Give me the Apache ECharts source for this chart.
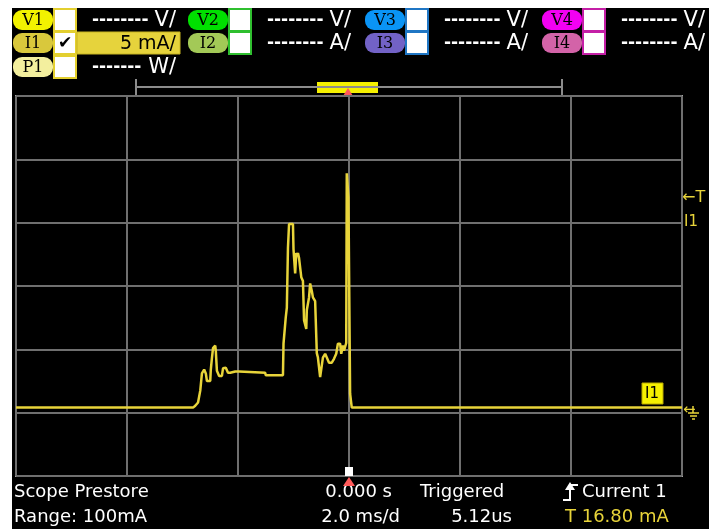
<!DOCTYPE html>
<html>
<head>
<meta charset="utf-8">
<script src="https://cdn.jsdelivr.net/npm/echarts@6/dist/echarts.min.js"></script>
<style>
  html, body { margin: 0; padding: 0; background: #fff; }
  #screen { position: absolute; left: 12px; top: 8px; width: 697px; height: 521px; background: #000; }
  #chart { position: absolute; left: 0; top: 0; width: 715px; height: 529px; }
</style>
</head>
<body>
<div id="screen"></div>
<div id="chart"></div>
<script>
// scope trace, channel I1 (time in ms, current in mA)
const timeMs = [
  -6.0, -5.44, -5.43, -5.41, -2.81, -2.77, -2.72, -2.68, -2.65, -2.61,
  -2.58, -2.56, -2.50, -2.49, -2.47, -2.45, -2.41, -2.40, -2.38, -2.34,
  -2.29, -2.27, -2.22, -2.18, -2.14, -2.05, -1.98, -1.96, -1.51, -1.50,
  -1.19, -1.18, -1.15, -1.14, -1.12, -1.10, -1.08, -1.01, -1.00, -0.99,
  -0.97, -0.95, -0.93, -0.92, -0.90, -0.86, -0.83, -0.81, -0.77, -0.76,
  -0.72, -0.70, -0.67, -0.65, -0.61, -0.58, -0.56, -0.52, -0.49, -0.47,
  -0.43, -0.40, -0.36, -0.31, -0.27, -0.23, -0.20, -0.16, -0.14, -0.11,
  -0.09, -0.05, -0.04, -0.02, -0.01, 0.01, 0.02, 0.04, 0.05, 6.0
];
const currentMa = [
  0.4, 0.4, 0.55, 0.4, 0.4, 0.55, 0.8, 1.74, 3.1, 3.4,
  3.1, 2.5, 2.5, 3.4, 4.3, 5.1, 5.3, 4.9, 3.3, 2.9,
  2.9, 3.5, 3.55, 3.15, 3.15, 3.25, 3.25, 3.15, 3.15, 2.95,
  2.95, 5.45, 5.45, 7.5, 8.3, 13.0, 14.9, 14.9, 12.9, 12.9,
  11.0, 12.6, 12.4, 12.6, 12.2, 10.7, 10.4, 7.3, 6.6, 8.1,
  9.1, 10.2, 9.6, 9.1, 8.8, 4.7, 4.35, 2.8, 2.8, 4.35,
  4.65, 4.35, 3.95, 3.95, 4.25, 4.65, 5.45, 5.45, 4.65, 5.3,
  4.9, 5.5, 18.9, 18.9, 17.0, 17.0, 1.5, 1.35, 0.4, 0.4
];

// 6 div x 2 ms, 6 div x 5 mA
const xMin = -6, xMax = 6, xStep = 2;
const yMin = -5, yMax = 25, yStep = 5;

// header channel labels
const channelRows = [
  [["V1", "#f2f200"], ["I1", "#d9c83c"], ["P1", "#f3ef9e"]],
  [["V2", "#00e000"], ["I2", "#a3c957"]],
  [["V3", "#0a94f5"], ["I3", "#7262c6"]],
  [["V4", "#f200f2"], ["I4", "#d363a8"]]
];
const boxColors = ["#e3cf2f", "#2fbf2f", "#1f76c4", "#c41fa6"];
const unitRows = [["V/", "A/", "W/"], ["V/", "A/"], ["V/", "A/"], ["V/", "A/"]];
const bottomText = {
  mode: "Scope Prestore", range: "Range: 100mA",
  offset: "0.000 s", timebase: "2.0 ms/d",
  state: "Triggered", delay: "5.12us",
  source: "Current 1", level: "T 16.80 mA"
};

const YEL = "#e8d43a";
const FONT = "DejaVu Sans";

function buildHeader() {
  const els = [];
  const groupX = [13, 188, 365, 542];
  const rowY = [20, 43, 67];
  channelRows.forEach((rows, g) => {
    const gx = groupX[g];
    rows.forEach(([lab, col], r) => {
      const cy = rowY[r];
      els.push({ type: "rect", shape: { x: gx, y: cy - 10, width: 40, height: 20, r: 9 }, style: { fill: col } });
      els.push({ type: "text", x: gx + 20, y: cy + 1, style: { text: lab, fill: "#000", font: "16px 'DejaVu Serif'", align: "center", verticalAlign: "middle" } });
      els.push({ type: "rect", shape: { x: gx + 41, y: cy - 11, width: 22, height: 22 }, style: { fill: "#fff", stroke: boxColors[g], lineWidth: 2 } });
      const right = gx + 163;
      if (g === 0 && r === 1) {
        els.push({ type: "rect", shape: { x: gx + 64, y: cy - 11, width: 103, height: 22 }, style: { fill: "#e6d33c", stroke: "#c8b420", lineWidth: 1 } });
        els.push({ type: "text", x: gx + 52, y: cy + 1, style: { text: "✔", fill: "#000", font: "bold 17px " + FONT, align: "center", verticalAlign: "middle" } });
        els.push({ type: "text", x: right, y: cy + 1, style: { text: "5 mA/", fill: "#000", font: "19px " + FONT, align: "right", verticalAlign: "middle" } });
      } else {
        const dashes = r === 2 ? "-------" : "--------";
        els.push({ type: "text", x: gx + 79, y: cy + 1, style: { text: dashes, fill: "#fff", font: "bold 17px " + FONT, align: "left", verticalAlign: "middle" } });
        els.push({ type: "text", x: right, y: cy + 1, style: { text: unitRows[g][r], fill: "#fff", font: "21px " + FONT, align: "right", verticalAlign: "middle" } });
      }
    });
  });
  return els;
}

function buildFrameMarks() {
  const gray = "#8c8c8c";
  return [
    // top bracket / position bar
    { type: "line", shape: { x1: 136, y1: 87, x2: 562, y2: 87 }, style: { stroke: gray, lineWidth: 2 } },
    { type: "line", shape: { x1: 136, y1: 79, x2: 136, y2: 95 }, style: { stroke: gray, lineWidth: 2 } },
    { type: "line", shape: { x1: 562, y1: 79, x2: 562, y2: 95 }, style: { stroke: gray, lineWidth: 2 } },
    { type: "rect", shape: { x: 317, y: 82, width: 61, height: 11 }, style: { fill: "#f5f000" } },
    { type: "line", shape: { x1: 317, y1: 87, x2: 378, y2: 87 }, style: { stroke: gray, lineWidth: 2 } },
    { type: "polygon", shape: { points: [[348, 88], [343, 96], [353, 96]] }, style: { fill: "#ff5a5a" } },
    // trigger point marker at bottom
    { type: "rect", z: 50, shape: { x: 345, y: 467, width: 8, height: 9 }, style: { fill: "#fff" } },
    { type: "polygon", z: 50, shape: { points: [[349, 477], [343, 486], [355, 486]] }, style: { fill: "#ff5a5a" } },
    // right side markers
    { type: "text", x: 682, y: 198, style: { text: "←T", fill: YEL, font: "16px " + FONT, verticalAlign: "middle" } },
    { type: "text", x: 684, y: 222, style: { text: "I1", fill: YEL, font: "15px " + FONT, verticalAlign: "middle" } },
    { type: "text", x: 683, y: 410, style: { text: "←", fill: YEL, font: "15px " + FONT, verticalAlign: "middle" } },
    { type: "line", shape: { x1: 693, y1: 406, x2: 693, y2: 413 }, style: { stroke: YEL, lineWidth: 1.5 } },
    { type: "line", shape: { x1: 688, y1: 413, x2: 699, y2: 413 }, style: { stroke: YEL, lineWidth: 1.5 } },
    { type: "line", shape: { x1: 690, y1: 416, x2: 697, y2: 416 }, style: { stroke: YEL, lineWidth: 1.5 } },
    { type: "line", shape: { x1: 692, y1: 419, x2: 695, y2: 419 }, style: { stroke: YEL, lineWidth: 1.5 } },
    { type: "rect", z: 50, shape: { x: 642, y: 383, width: 21, height: 21 }, style: { fill: "#f5f000", stroke: "#b8a800", lineWidth: 1 } },
    { type: "text", z: 51, x: 652, y: 394, style: { text: "I1", fill: "#000", font: "15px " + FONT, align: "center", verticalAlign: "middle" } }
  ];
}

function buildFooter() {
  const t = (text, x, y, align, fill) => ({
    type: "text", x, y,
    style: { text, fill: fill || "#fff", font: "18px " + FONT, align, verticalAlign: "middle" }
  });
  return [
    t(bottomText.mode, 14, 492, "left"),
    t(bottomText.range, 14, 517, "left"),
    t(bottomText.offset, 392, 492, "right"),
    t(bottomText.timebase, 400, 517, "right"),
    t(bottomText.state, 420, 492, "left"),
    t(bottomText.delay, 512, 517, "right"),
    t(bottomText.source, 582, 492, "left"),
    t(bottomText.level, 565, 517, "left", YEL),
    // rising edge trigger symbol
    { type: "polyline", shape: { points: [[563, 500], [570, 500], [570, 485], [578, 485]] }, style: { stroke: "#fff", lineWidth: 2, fill: null } },
    { type: "polygon", shape: { points: [[570, 482], [565, 490], [575, 490]] }, style: { fill: "#fff" } }
  ];
}

const chart = echarts.init(document.getElementById("chart"));
chart.setOption({
  backgroundColor: "transparent",
  animation: false,
  grid: {
    left: 16, right: 33, top: 96, bottom: 53,
    show: true, borderColor: "#a6a6a6", borderWidth: 2, backgroundColor: "transparent"
  },
  xAxis: {
    type: "value", min: xMin, max: xMax, interval: xStep,
    axisLine: { show: false }, axisTick: { show: false }, axisLabel: { show: false },
    splitLine: { show: true, lineStyle: { color: "#6f6f6f", width: 2 } }
  },
  yAxis: {
    type: "value", min: yMin, max: yMax, interval: yStep,
    axisLine: { show: false }, axisTick: { show: false }, axisLabel: { show: false },
    splitLine: { show: true, lineStyle: { color: "#6f6f6f", width: 2 } }
  },
  graphic: [...buildHeader(), ...buildFrameMarks(), ...buildFooter()],
  series: [{
    name: "I1",
    type: "line",
    data: timeMs.map((t, k) => [t, currentMa[k]]),
    showSymbol: false,
    symbol: "none",
    lineStyle: { color: YEL, width: 2.5 },
    z: 5
  }]
});
</script>
</body>
</html>
